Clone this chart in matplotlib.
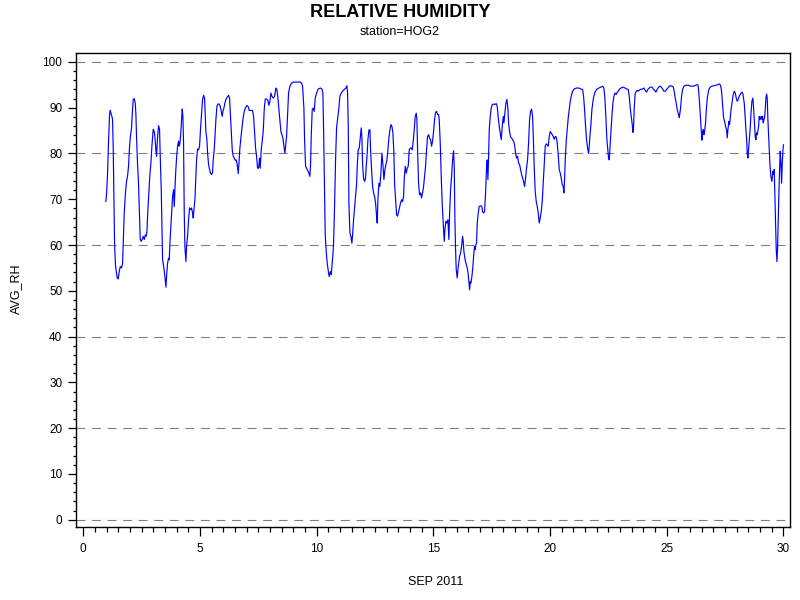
#!/usr/bin/env python3
"""Relative humidity, station HOG2, September 2011 (SAS-style gplot)."""

import matplotlib
matplotlib.use("Agg")
import matplotlib.pyplot as plt
from matplotlib.ticker import MultipleLocator

plt.rcParams['font.family'] = ['Liberation Sans', 'DejaVu Sans']

TITLE = "RELATIVE HUMIDITY"
SUBTITLE = "station=HOG2"
X_LABEL = "SEP 2011"
Y_LABEL = "AVG_RH"

# day of month (fractional)
day = [
    0.971, 1.0, 1.043, 1.086, 1.129, 1.157, 1.186, 1.229, 1.257, 1.286, 1.314, 1.343,
    1.386, 1.457, 1.5, 1.543, 1.586, 1.643, 1.686, 1.714, 1.757, 1.814, 1.857, 1.9,
    1.943, 1.986, 2.029, 2.071, 2.1, 2.143, 2.186, 2.229, 2.257, 2.286, 2.329, 2.371,
    2.414, 2.443, 2.486, 2.529, 2.571, 2.614, 2.657, 2.7, 2.729, 2.771, 2.814, 2.857,
    2.9, 2.943, 2.971, 3.0, 3.043, 3.071, 3.114, 3.143, 3.171, 3.2, 3.229, 3.271,
    3.3, 3.343, 3.371, 3.4, 3.457, 3.5, 3.543, 3.571, 3.614, 3.657, 3.686, 3.714,
    3.757, 3.8, 3.829, 3.871, 3.9, 3.929, 3.957, 4.0, 4.043, 4.086, 4.114, 4.143,
    4.171, 4.214, 4.243, 4.271, 4.3, 4.329, 4.357, 4.4, 4.429, 4.471, 4.514, 4.557,
    4.6, 4.643, 4.686, 4.714, 4.743, 4.786, 4.814, 4.857, 4.9, 4.943, 4.986, 5.029,
    5.071, 5.114, 5.157, 5.2, 5.229, 5.257, 5.3, 5.329, 5.371, 5.414, 5.457, 5.5,
    5.543, 5.571, 5.614, 5.643, 5.686, 5.729, 5.771, 5.829, 5.871, 5.914, 5.957, 5.986,
    6.029, 6.071, 6.114, 6.171, 6.229, 6.271, 6.3, 6.343, 6.386, 6.429, 6.471, 6.514,
    6.557, 6.6, 6.643, 6.671, 6.714, 6.757, 6.8, 6.843, 6.886, 6.943, 7.014, 7.071,
    7.114, 7.186, 7.257, 7.3, 7.343, 7.386, 7.429, 7.471, 7.514, 7.557, 7.586, 7.629,
    7.671, 7.714, 7.757, 7.8, 7.857, 7.914, 7.957, 8.0, 8.043, 8.086, 8.143, 8.2,
    8.257, 8.3, 8.343, 8.386, 8.429, 8.471, 8.514, 8.557, 8.6, 8.643, 8.671, 8.714,
    8.757, 8.8, 8.857, 8.929, 9.0, 9.143, 9.286, 9.357, 9.4,
    9.457, 9.486, 9.529, 9.6, 9.671, 9.714, 9.743, 9.771, 9.814, 9.857, 9.9, 9.943,
    10.0, 10.071, 10.171, 10.229, 10.271, 10.3, 10.343, 10.371, 10.414, 10.457, 10.514, 10.543,
    10.586, 10.629, 10.671, 10.7, 10.729, 10.771, 10.814, 10.857, 10.914, 10.957, 11.0, 11.057,
    11.114, 11.186, 11.257, 11.3, 11.329, 11.357, 11.386, 11.429, 11.471, 11.514, 11.543, 11.586,
    11.629, 11.671, 11.714, 11.743, 11.786, 11.829, 11.871, 11.914, 11.943, 11.971, 12.014, 12.057,
    12.1, 12.129, 12.171, 12.2, 12.243, 12.286, 12.314, 12.357, 12.4, 12.443, 12.486, 12.529,
    12.571, 12.6, 12.629, 12.671, 12.714, 12.757, 12.8, 12.843, 12.886, 12.929, 12.971, 13.014,
    13.057, 13.1, 13.143, 13.186, 13.229, 13.271, 13.314, 13.343, 13.386, 13.429, 13.471, 13.514,
    13.557, 13.6, 13.643, 13.686, 13.729, 13.757, 13.8, 13.843, 13.886, 13.929, 13.971, 14.014,
    14.057, 14.1, 14.143, 14.186, 14.229, 14.271, 14.3, 14.329, 14.371, 14.414, 14.457, 14.5,
    14.543, 14.586, 14.629, 14.671, 14.714, 14.757, 14.8, 14.843, 14.886, 14.929, 14.971, 15.014,
    15.057, 15.1, 15.143, 15.186, 15.229, 15.257, 15.3, 15.343, 15.386, 15.429, 15.471, 15.5,
    15.543, 15.586, 15.629, 15.671, 15.7, 15.743, 15.786, 15.829, 15.871, 15.9, 15.929, 15.957,
    15.986, 16.029, 16.057, 16.086, 16.129, 16.171, 16.214, 16.257, 16.286, 16.314, 16.357, 16.4,
    16.443, 16.486, 16.529, 16.557, 16.586, 16.614, 16.657, 16.7, 16.729, 16.771, 16.8, 16.829,
    16.857, 16.886, 16.929, 16.971, 17.029, 17.086, 17.114, 17.157, 17.2, 17.243, 17.286, 17.314,
    17.343, 17.371, 17.4, 17.443, 17.486, 17.529, 17.586, 17.643, 17.7, 17.743, 17.786, 17.829,
    17.871, 17.914, 17.957, 18.0, 18.029, 18.071, 18.114, 18.157, 18.2, 18.229, 18.271, 18.314,
    18.357, 18.4, 18.443, 18.486, 18.529, 18.571, 18.614, 18.657, 18.7, 18.743, 18.786, 18.829,
    18.871, 18.914, 18.957, 19.0, 19.043, 19.086, 19.129, 19.171, 19.214, 19.257,
    19.286, 19.329, 19.371, 19.414, 19.457, 19.5, 19.543, 19.586, 19.629, 19.671, 19.714, 19.757,
    19.8, 19.843, 19.886, 19.929, 19.971, 20.014, 20.057, 20.1, 20.143, 20.186, 20.229, 20.271,
    20.314, 20.357, 20.4, 20.443, 20.486, 20.529, 20.571, 20.6, 20.629, 20.657, 20.7, 20.743,
    20.786, 20.829, 20.871, 20.914, 20.971, 21.043, 21.143, 21.243, 21.314, 21.4, 21.443, 21.486,
    21.529, 21.571, 21.614, 21.657, 21.686, 21.714, 21.757, 21.8, 21.857, 21.914, 22.0, 22.1,
    22.186, 22.257, 22.314, 22.357, 22.4, 22.443, 22.486, 22.514, 22.543, 22.571, 22.614, 22.657,
    22.7, 22.743, 22.786, 22.843, 22.886, 22.929, 22.971, 23.043, 23.143, 23.214, 23.286, 23.357,
    23.4, 23.443, 23.486, 23.529, 23.557, 23.586, 23.614, 23.657, 23.7, 23.743, 23.771, 23.829,
    23.886, 23.971, 24.029, 24.086, 24.143, 24.2, 24.257, 24.314, 24.371, 24.429, 24.486, 24.543,
    24.6, 24.657, 24.714, 24.771, 24.829, 24.886, 24.943, 25.0, 25.057, 25.114, 25.171, 25.229,
    25.286, 25.329, 25.371, 25.414, 25.457, 25.5, 25.543, 25.571, 25.6, 25.643, 25.686, 25.743,
    25.829, 25.929, 26.043, 26.143, 26.214, 26.286, 26.343, 26.371, 26.414, 26.457, 26.486, 26.514,
    26.543, 26.571, 26.6, 26.629, 26.671, 26.714, 26.757, 26.814, 26.871, 26.943, 27.029, 27.114,
    27.186, 27.257, 27.314, 27.357, 27.4, 27.443, 27.486, 27.529, 27.571, 27.6, 27.629, 27.671,
    27.7, 27.729, 27.771, 27.814, 27.857, 27.9, 27.943, 27.986, 28.029, 28.071, 28.114, 28.157,
    28.2, 28.243, 28.271, 28.286, 28.329, 28.371, 28.4, 28.429, 28.457, 28.486, 28.514, 28.543,
    28.586, 28.614, 28.657, 28.7, 28.729, 28.771, 28.8, 28.829, 28.857, 28.886, 28.943, 28.971,
    29.0, 29.029, 29.057, 29.086, 29.114, 29.143, 29.171, 29.2, 29.229, 29.257, 29.286, 29.314,
    29.343, 29.386, 29.429, 29.471, 29.514, 29.557, 29.586, 29.614, 29.643, 29.671, 29.7, 29.729,
    29.757, 29.786, 29.814, 29.843, 29.871, 29.9, 29.929, 29.957, 29.986, 30.014,
]

# AVG_RH (%) at those days
avg_rh = [
    69.5, 71.2, 75.7, 83.0, 88.5, 89.4, 88.8, 88.1, 87.4, 80.8, 70.6, 60.1,
    55.3, 52.8, 52.6, 54.2, 55.3, 55.0, 56.0, 60.1, 67.0, 71.7, 73.9, 75.1,
    77.3, 81.6, 84.1, 85.6, 88.5, 91.8, 92.0, 91.0, 88.5, 83.4, 77.6, 73.2,
    65.9, 61.2, 60.8, 61.3, 61.9, 61.2, 62.2, 61.9, 63.0, 67.7, 71.7, 75.4,
    77.9, 81.6, 83.4, 85.3, 84.8, 83.7, 80.8, 79.4, 82.3, 84.5, 86.1, 85.2,
    79.4, 72.1, 64.1, 56.8, 55.0, 53.1, 50.8, 53.1, 56.0, 57.1, 56.8, 60.4,
    64.1, 68.1, 70.6, 72.1, 68.4, 72.1, 75.4, 79.0, 81.6, 82.7, 81.6, 82.3,
    83.7, 87.4, 89.7, 88.1, 82.3, 67.0, 59.7, 56.4, 59.7, 61.9, 65.5, 68.1,
    67.7, 68.1, 67.0, 65.9, 67.7, 69.9, 73.2, 78.6, 81.0, 80.8, 81.6, 85.6,
    88.8, 91.8, 92.7, 92.1, 88.5, 84.8, 83.0, 80.1, 77.6, 76.5, 75.7, 75.4,
    75.9, 78.6, 80.8, 83.6, 87.4, 90.3, 90.8, 90.8, 90.3, 89.2, 88.1, 89.2,
    89.9, 91.0, 91.8, 92.3, 92.7, 92.1, 89.2, 85.2, 80.8, 79.4, 79.0, 78.5,
    78.6, 77.6, 75.6, 77.6, 81.2, 83.4, 85.3, 87.4, 88.8, 89.9, 90.5, 90.2,
    89.4, 89.4, 89.4, 88.1, 84.8, 81.2, 79.4, 76.8, 76.8, 79.0, 76.8, 80.8,
    82.7, 84.8, 89.6, 91.9, 91.9, 91.6, 90.5, 91.4, 93.2, 92.5, 92.1, 92.5,
    94.3, 94.0, 92.1, 89.6, 87.0, 84.8, 84.1, 83.4, 81.6, 80.1, 81.6, 83.7,
    88.5, 93.2, 94.7, 95.4, 95.6, 95.6, 95.6, 95.4, 94.7,
    89.9, 83.0, 77.2, 76.5, 75.7, 75.0, 77.6, 83.7, 89.6, 89.9, 89.2, 92.1,
    93.2, 94.1, 94.3, 94.1, 93.2, 85.6, 71.4, 62.2, 58.6, 56.0, 53.9, 53.1,
    54.2, 53.5, 56.0, 57.9, 60.4, 68.4, 78.6, 85.6, 88.1, 89.9, 92.5, 93.2,
    93.6, 94.0, 94.3, 94.8, 93.2, 86.3, 69.2, 62.6, 61.9, 60.4, 62.2, 65.5,
    68.1, 70.6, 73.2, 77.2, 80.8, 81.2, 83.4, 85.6, 83.4, 77.9, 74.6, 73.9,
    74.6, 77.2, 80.1, 83.0, 85.1, 85.2, 80.8, 76.5, 72.8, 71.4, 70.6, 69.2,
    66.3, 64.8, 69.9, 73.5, 72.8, 75.7, 80.1, 77.6, 74.3, 76.5, 77.6, 78.6,
    80.8, 83.4, 85.2, 86.3, 85.9, 84.5, 80.1, 73.5, 69.9, 66.6, 66.3, 67.3,
    68.4, 69.2, 69.9, 69.5, 70.6, 74.3, 77.2, 75.7, 76.8, 77.2, 80.8, 81.2,
    81.2, 80.8, 82.7, 85.2, 88.1, 88.8, 87.4, 80.8, 73.5, 71.0, 71.4, 70.3,
    71.4, 72.8, 75.0, 77.2, 80.8, 83.7, 84.1, 83.4, 83.0, 81.6, 82.7, 84.8,
    87.4, 89.0, 89.2, 88.5, 88.5, 87.4, 82.3, 75.0, 68.8, 64.8, 60.8, 63.3,
    65.2, 64.8, 65.5, 61.2, 66.6, 72.1, 75.0, 78.6, 80.6, 77.2, 65.5, 59.0,
    54.6, 52.8, 54.6, 55.7, 57.5, 58.2, 59.7, 61.9, 60.8, 58.6, 57.1, 56.0,
    55.3, 54.2, 52.0, 50.2, 52.0, 51.7, 53.1, 55.3, 57.5, 59.7, 59.0, 60.1,
    60.4, 64.8, 67.0, 68.4, 68.6, 68.4, 67.3, 67.0, 67.3, 71.4, 77.2, 78.6,
    74.3, 79.0, 85.2, 88.1, 89.9, 90.7, 90.8, 90.7, 90.9, 90.3, 87.8, 85.9,
    84.5, 83.0, 85.9, 88.1, 86.7, 88.8, 91.0, 91.8, 89.9, 86.7, 84.8, 83.6,
    83.4, 83.0, 82.7, 81.9, 80.1, 79.0, 79.4, 77.9, 77.6, 76.5, 75.4, 74.6,
    73.9, 72.8, 74.6, 76.8, 78.6, 82.3, 87.4, 89.2, 89.7, 88.1,
    84.1, 76.8, 71.7, 69.5, 68.4, 67.0, 64.8, 65.9, 67.3, 69.5, 73.5, 77.9,
    81.6, 82.1, 81.9, 81.6, 83.7, 84.8, 84.5, 84.1, 83.7, 83.1, 83.7, 83.6,
    82.3, 79.7, 76.5, 75.7, 74.6, 73.2, 72.8, 71.4, 74.3, 78.6, 82.7, 85.2,
    87.8, 89.6, 91.4, 92.5, 93.6, 94.1, 94.3, 94.3, 94.1, 94.0, 92.5, 89.6,
    85.9, 83.0, 81.2, 80.0, 81.6, 83.7, 86.3, 89.6, 91.8, 93.2, 94.0, 94.3,
    94.5, 94.7, 94.3, 92.1, 87.8, 83.0, 80.5, 79.0, 78.6, 80.8, 84.5, 88.1,
    91.0, 92.5, 93.2, 92.9, 93.4, 93.6, 94.0, 94.3, 94.5, 94.3, 94.1, 94.0,
    92.5, 89.9, 88.1, 86.3, 84.6, 85.9, 89.9, 93.2, 93.6, 93.8, 93.6, 93.8,
    94.0, 94.1, 94.3, 93.8, 93.4, 94.0, 94.3, 94.5, 94.5, 94.1, 93.8, 93.4,
    94.0, 94.5, 94.7, 94.5, 94.1, 93.6, 93.6, 94.0, 94.3, 94.7, 94.8, 94.7,
    94.5, 93.6, 92.1, 91.0, 89.6, 88.8, 87.8, 88.8, 89.9, 92.5, 94.0, 94.7,
    94.9, 94.9, 94.7, 94.7, 94.8, 95.0, 95.0, 93.9, 91.0, 87.4, 85.2, 82.9,
    84.5, 85.2, 84.1, 84.8, 86.7, 90.3, 92.5, 94.0, 94.5, 94.7, 94.8, 94.9,
    95.0, 95.2, 94.9, 93.6, 90.7, 87.8, 87.0, 85.9, 85.2, 83.4, 85.2, 87.0,
    86.3, 87.8, 89.9, 91.4, 92.9, 93.6, 93.2, 92.1, 91.4, 91.8, 92.5, 92.9,
    93.2, 93.4, 93.0, 92.5, 91.0, 87.8, 85.2, 83.4, 80.1, 79.0, 80.8, 82.7,
    85.6, 88.5, 91.4, 92.1, 89.9, 86.3, 83.7, 83.0, 84.5, 84.1, 85.9, 88.1,
    87.4, 87.8, 88.1, 87.4, 88.1, 86.7, 87.4, 87.8, 89.6, 92.1, 93.0, 92.1,
    87.4, 82.3, 77.6, 75.0, 73.9, 76.1, 75.4, 76.5, 70.6, 64.8, 59.0, 56.4,
    59.3, 65.5, 71.4, 76.5, 80.5, 78.0, 73.5, 77.6, 80.8, 81.9,
]

y_ticks = [0, 10, 20, 30, 40, 50, 60, 70, 80, 90, 100]
x_ticks = [0, 5, 10, 15, 20, 25, 30]
grid_levels = [0, 20, 40, 60, 80, 100]

fig = plt.figure(figsize=(8, 6), dpi=100)
ax = fig.add_axes([76 / 800, 1 - 527 / 600, 714 / 800, 474 / 600])

# dashed reference lines every 20 %
for g in grid_levels:
    ax.axhline(g, color='#808080', linewidth=0.8, linestyle=(0, (8, 6)), zorder=1)

ax.plot(day, avg_rh, color='#0000FF', linewidth=0.85, zorder=2)

ax.set_xlim(-0.31, 30.29)
ax.set_ylim(-1.6, 101.95)
ax.set_xticks(x_ticks)
ax.set_yticks(y_ticks)
ax.xaxis.set_minor_locator(MultipleLocator(0.5))
ax.yaxis.set_minor_locator(MultipleLocator(2))

ax.tick_params(axis='x', which='major', direction='out', length=6.7, width=0.9,
               pad=5, labelsize=8.5)
ax.tick_params(axis='x', which='minor', direction='out', length=3.8, width=0.9)
ax.tick_params(axis='y', which='major', direction='out', length=5.8, width=0.9,
               pad=4, labelsize=8.5)
ax.tick_params(axis='y', which='minor', direction='out', length=2.5, width=0.9)
for side in ax.spines.values():
    side.set_linewidth(1.0)

fig.text(0.5, 1 - 16.7 / 600, TITLE, ha='center', va='baseline',
         fontsize=13, fontweight='bold')
fig.text(0.5, 1 - 34.7 / 600, SUBTITLE, ha='center', va='baseline', fontsize=9)
fig.text(436 / 800, 1 - 585 / 600, X_LABEL, ha='center', va='baseline', fontsize=9)
fig.text(16 / 800, 1 - 289 / 600, Y_LABEL, ha='center', va='center',
         rotation=90, fontsize=9)

fig.savefig('out.png', dpi=100)
